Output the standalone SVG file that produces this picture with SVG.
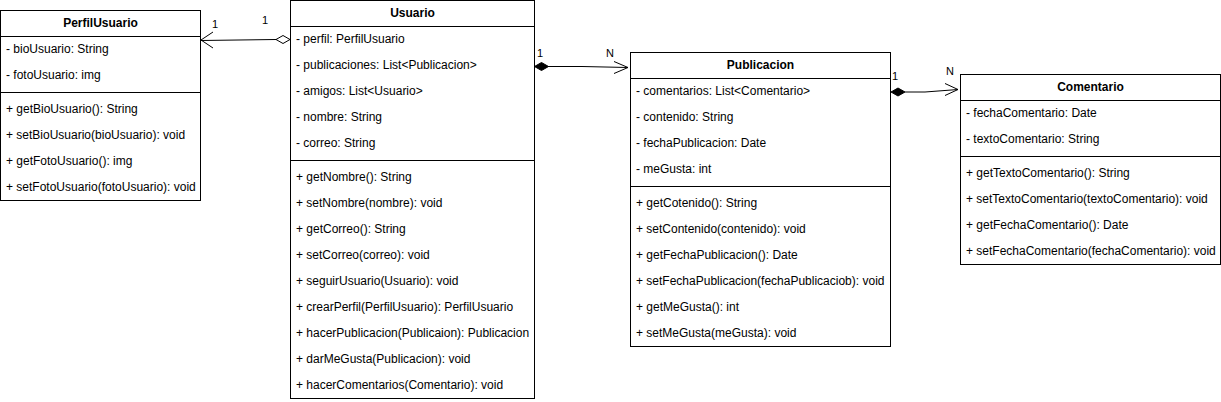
<svg xmlns="http://www.w3.org/2000/svg" width="1221" height="402" viewBox="0 0 1221 402">
<style>
.box{fill:#fff;stroke:#000;stroke-width:1}
.ln{stroke:#000;stroke-width:1;fill:none}
.t{font-family:"Liberation Sans",Arial,sans-serif;font-size:12px;fill:#000}
.h{font-family:"Liberation Sans",Arial,sans-serif;font-size:12px;font-weight:bold;fill:#000;text-anchor:middle}
.lb{font-family:"Liberation Sans",Arial,sans-serif;font-size:11px;fill:#000}
</style>
<rect width="1221" height="402" fill="#fff"/>
<g id="connectors">
  <g id="e-usuario-perfil">
    <path class="ln" d="M201 40.5 L276 39.5"/>
    <path class="ln" d="M213 32 L201 40 L213 48"/>
    <path d="M276 39.5 L283 35.5 L290 39.5 L283 43.5 Z" fill="#fff" stroke="#000"/>
    <text class="lb" x="212" y="28">1</text>
    <text class="lb" x="262" y="24">1</text>
  </g>
  <g id="e-usuario-publicacion">
    <path class="ln" d="M548 66.5 L582 66.5 L628 67.5"/>
    <path class="ln" d="M614 61.5 L628 67.5 L614 73.5"/>
    <path d="M534.5 66.5 L541.5 62.5 L548.5 66.5 L541.5 70.5 Z" fill="#000" stroke="#000"/>
    <text class="lb" x="537" y="57">1</text>
    <text class="lb" x="606" y="57">N</text>
  </g>
  <g id="e-publicacion-comentario">
    <path class="ln" d="M905 92 L925 92 L958 89.5"/>
    <path class="ln" d="M945 83.5 L958 89.5 L945 95.5"/>
    <path d="M891 92 L898 88 L905 92 L898 96 Z" fill="#000" stroke="#000"/>
    <text class="lb" x="892" y="80">1</text>
    <text class="lb" x="946" y="75">N</text>
  </g>
</g>
<g id="PerfilUsuario">
  <rect class="box" x="0.5" y="10.5" width="200" height="190"/>
  <path class="ln" d="M0.5 36.5 H200.5 M0.5 92.5 H200.5"/>
  <text class="h" x="100.5" y="27">PerfilUsuario</text>
  <text class="t" x="6" y="53">- bioUsuario: String</text>
  <text class="t" x="6" y="79">- fotoUsuario: img</text>
  <text class="t" x="6" y="113">+ getBioUsuario(): String</text>
  <text class="t" x="6" y="139">+ setBioUsuario(bioUsuario): void</text>
  <text class="t" x="6" y="165">+ getFotoUsuario(): img</text>
  <text class="t" x="6" y="191">+ setFotoUsuario(fotoUsuario): void</text>
</g>
<g id="Usuario">
  <rect class="box" x="290.5" y="0.5" width="244" height="398"/>
  <path class="ln" d="M290.5 26.5 H534.5 M290.5 160.5 H534.5"/>
  <text class="h" x="412.5" y="17">Usuario</text>
  <text class="t" x="296" y="43">- perfil: PerfilUsuario</text>
  <text class="t" x="296" y="69">- publicaciones: List&lt;Publicacion&gt;</text>
  <text class="t" x="296" y="95">- amigos: List&lt;Usuario&gt;</text>
  <text class="t" x="296" y="121">- nombre: String</text>
  <text class="t" x="296" y="147">- correo: String</text>
  <text class="t" x="296" y="181">+ getNombre(): String</text>
  <text class="t" x="296" y="207">+ setNombre(nombre): void</text>
  <text class="t" x="296" y="233">+ getCorreo(): String</text>
  <text class="t" x="296" y="259">+ setCorreo(correo): void</text>
  <text class="t" x="296" y="285">+ seguirUsuario(Usuario): void</text>
  <text class="t" x="296" y="311">+ crearPerfil(PerfilUsuario): PerfilUsuario</text>
  <text class="t" x="296" y="337">+ hacerPublicacion(Publicaion): Publicacion</text>
  <text class="t" x="296" y="363">+ darMeGusta(Publicacion): void</text>
  <text class="t" x="296" y="389">+ hacerComentarios(Comentario): void</text>
</g>
<g id="Publicacion">
  <rect class="box" x="630.5" y="52.5" width="260" height="294"/>
  <path class="ln" d="M630.5 78.5 H890.5 M630.5 186.5 H890.5"/>
  <text class="h" x="760.5" y="69">Publicacion</text>
  <text class="t" x="636" y="95">- comentarios: List&lt;Comentario&gt;</text>
  <text class="t" x="636" y="121">- contenido: String</text>
  <text class="t" x="636" y="147">- fechaPublicacion: Date</text>
  <text class="t" x="636" y="173">- meGusta: int</text>
  <text class="t" x="636" y="207">+ getCotenido(): String</text>
  <text class="t" x="636" y="233">+ setContenido(contenido): void</text>
  <text class="t" x="636" y="259">+ getFechaPublicacion(): Date</text>
  <text class="t" x="636" y="285">+ setFechaPublicacion(fechaPublicaciob): void</text>
  <text class="t" x="636" y="311">+ getMeGusta(): int</text>
  <text class="t" x="636" y="337">+ setMeGusta(meGusta): void</text>
</g>
<g id="Comentario">
  <rect class="box" x="960.5" y="74.5" width="260" height="190"/>
  <path class="ln" d="M960.5 100.5 H1220.5 M960.5 156.5 H1220.5"/>
  <text class="h" x="1090.5" y="91">Comentario</text>
  <text class="t" x="966" y="117">- fechaComentario: Date</text>
  <text class="t" x="966" y="143">- textoComentario: String</text>
  <text class="t" x="966" y="177">+ getTextoComentario(): String</text>
  <text class="t" x="966" y="203">+ setTextoComentario(textoComentario): void</text>
  <text class="t" x="966" y="229">+ getFechaComentario(): Date</text>
  <text class="t" x="966" y="255">+ setFechaComentario(fechaComentario): void</text>
</g>
</svg>
